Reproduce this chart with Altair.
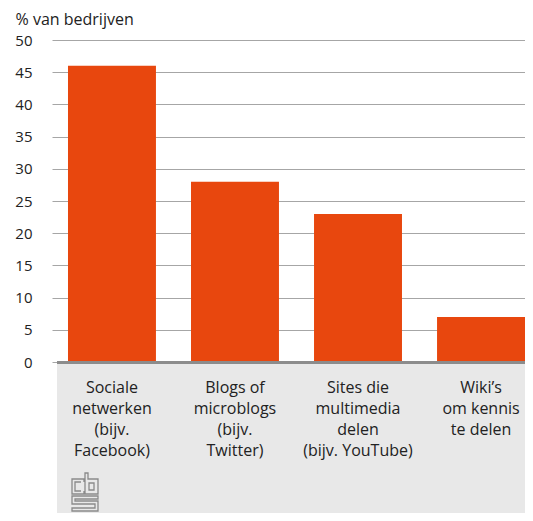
import altair as alt
import pandas as pd

categories = [
    "Sociale|netwerken|(bijv.|Facebook)",
    "Blogs of|microblogs|(bijv.|Twitter)",
    "Sites die|multimedia|delen|(bijv. YouTube)",
    "Wiki’s|om kennis|te delen",
]
values = [46, 28, 23, 7]
y_ticks = [0, 5, 10, 15, 20, 25, 30, 35, 40, 45, 50]

df = pd.DataFrame({"cat": categories, "val": values})

W, H = 473, 322
FONT = "Open Sans"
BAR = "#E8470E"

bars = alt.Chart(df).mark_bar(color=BAR).encode(
    x=alt.X(
        "cat:N",
        sort=None,
        scale=alt.Scale(paddingInner=0.285, paddingOuter=0.065, align=1),
        axis=alt.Axis(
            title=None, domain=False, ticks=False, labelAngle=0,
            labelExpr="split(datum.label, '|')", labelPadding=17,
            labelFontSize=16, labelLineHeight=21, labelBaseline="top",
            labelColor="#222222", labelFont=FONT, zindex=1,
        ),
    ),
    y=alt.Y(
        "val:Q",
        scale=alt.Scale(domain=[0, 50]),
        axis=alt.Axis(
            values=y_ticks, domain=False, ticks=False, labelPadding=20,
            labelFontSize=15, labelColor="#222222", labelFont=FONT,
            gridColor="#a6a6a6", gridWidth=1,
            title="% van bedrijven", titleAngle=0, titleAlign="left",
            titleBaseline="alphabetic", titleX=-37, titleY=-16,
            titleFontSize=16, titleFontWeight="normal", titleFont=FONT,
            titleColor="#222222",
        ),
    ),
)

one = pd.DataFrame({"a": [0]})
panel = alt.Chart(one).mark_rect(color="#e8e8e8").encode(
    x=alt.value(5), x2=alt.value(W), y=alt.value(H), y2=alt.value(H + 151)
)
baseline = alt.Chart(one).mark_rule(color="#8c8c8c", strokeWidth=3).encode(
    x=alt.value(5), x2=alt.value(W), y=alt.value(H + 0.5)
)

# CBS logo outline (decoration)
pts_px = [
    "M12 9 L12 6 L0 6 L0 21 L12 21 L12 18 M9 9 L3 9 L3 18 L9 18",
    "M13 0 L13 21 L26 21 L26 6 L16 6 L16 0 Z M17 10 L22 10 L22 17 L17 17 Z",
    "M26 23 L0 23 L0 31 L23 31 L23 35 L0 35 L0 38 L26 38 L26 28 L3 28 L3 26 L26 26 Z",
]
def conv(path):
    out = []
    toks = path.replace("M", " M ").replace("L", " L ").replace("Z", " Z ").split()
    i = 0
    while i < len(toks):
        t = toks[i]
        if t in ("M", "L"):
            x = (float(toks[i + 1]) - 13) / 19
            y = (float(toks[i + 2]) - 19) / 19
            out.append(f"{t}{x:.3f},{y:.3f}")
            i += 3
        else:
            out.append(t)
            i += 1
    return " ".join(out)
logo_path = " ".join(conv(p) for p in pts_px)
logo = alt.Chart(one).mark_point(
    shape=logo_path, filled=False, stroke="#8a8a8a", strokeWidth=1.3, size=38 * 38, opacity=1
).encode(x=alt.value(85 - 52), y=alt.value(492 - 40))

chart = alt.layer(panel, bars, baseline, logo).properties(
    width=W, height=H,
    autosize=alt.AutoSizeParams(type="none"),
    padding={"left": 44, "top": 32, "right": 0, "bottom": 151},
).configure_view(stroke=None)

chart.save("out.html", embed_options={"renderer": "svg", "actions": False})
